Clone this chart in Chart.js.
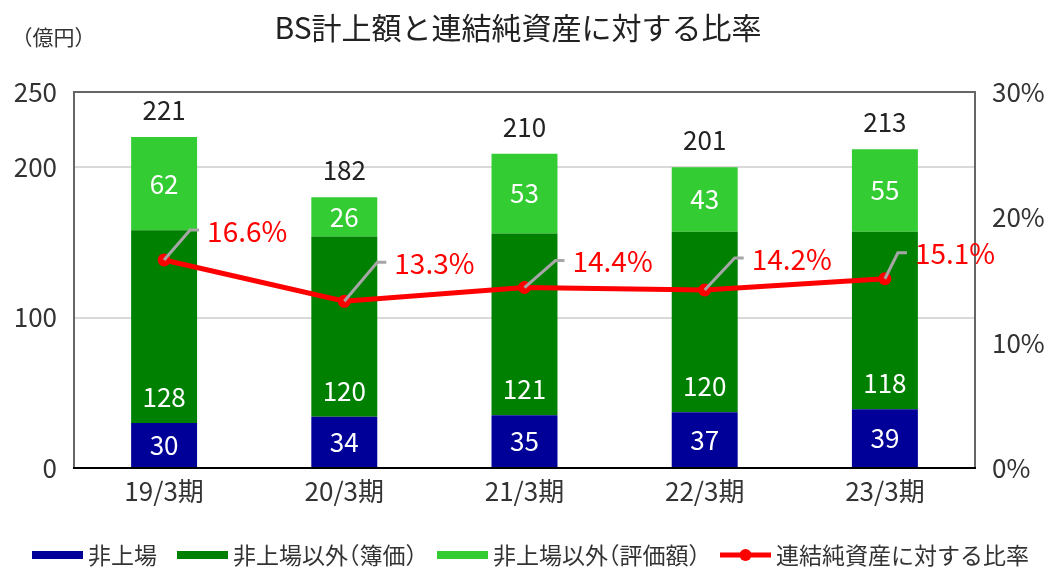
<!DOCTYPE html>
<html><head><meta charset="utf-8">
<script src="https://cdn.jsdelivr.net/npm/chart.js@4"></script>
<style>html,body{margin:0;padding:0;background:#fff}#wrap{width:1047px;height:569px;position:relative}</style>
</head><body><div id="wrap"><canvas id="c" width="1047" height="569"></canvas></div>
<script>
// ---- data ----
const categories = ['19/3期','20/3期','21/3期','22/3期','23/3期'];
const unlisted = [30,34,35,37,39];
const otherBook = [128,120,121,120,118];
const otherValuation = [62,26,53,43,55];
const totals = [221,182,210,201,213];
const ratio = [16.6,13.3,14.4,14.2,15.1];
const leftTicks = [0,100,200,250];
const seriesNames = ['非上場','非上場以外（簿価）','非上場以外（評価額）','連結純資産に対する比率'];
const titleText = 'BS計上額と連結純資産に対する比率';
const unitText = '（億円）';

// ---- layout / style constants ----
const FONT = '"Noto Sans CJK JP", "Noto Sans", sans-serif';
const COLORS = ['#000099','#008000','#33CC33','#FF0000'];
const leaderOffsets = [[26,-30],[33,-39],[31,-27],[30,-32],[13,-26]];
Chart.defaults.font.family = FONT;

// draw text with proportional (half-width) fullwidth parentheses; returns width
function drawPalt(ctx, text, x, y, doDraw){
  let cx = x;
  for (const ch of text){
    const w = ctx.measureText(ch).width;
    if (ch === '（'){ if (doDraw) ctx.fillText(ch, cx - w/2, y); cx += w/2; }
    else if (ch === '）'){ if (doDraw) ctx.fillText(ch, cx, y); cx += w/2; }
    else { if (doDraw) ctx.fillText(ch, cx, y); cx += w; }
  }
  return cx - x;
}

const overlay = {
  id:'overlay',
  afterDatasetsDraw(chart){
    const ctx = chart.ctx, a = chart.chartArea;
    ctx.save();
    // frame
    ctx.lineWidth = 2;
    ctx.strokeStyle = '#666666';
    ctx.beginPath();
    ctx.moveTo(a.left, a.bottom); ctx.lineTo(a.left, a.top); ctx.lineTo(a.right, a.top); ctx.lineTo(a.right, a.bottom);
    ctx.stroke();
    ctx.strokeStyle = '#000000';
    ctx.beginPath(); ctx.moveTo(a.left-1, a.bottom); ctx.lineTo(a.right+1, a.bottom); ctx.stroke();

    // bar value labels
    ctx.textAlign = 'center'; ctx.textBaseline = 'middle';
    ctx.font = '26px ' + FONT;
    const m0 = chart.getDatasetMeta(0), m1 = chart.getDatasetMeta(1), m2 = chart.getDatasetMeta(2);
    ctx.fillStyle = '#FFFFFF';
    m0.data.forEach((el,i)=>{ ctx.fillText(String(unlisted[i]), el.x, (el.y+el.base)/2); });
    m1.data.forEach((el,i)=>{ ctx.fillText(String(otherBook[i]), el.x, el.base-26); });
    m2.data.forEach((el,i)=>{ ctx.fillText(String(otherValuation[i]), el.x, (el.y+el.base)/2); });
    ctx.fillStyle = '#222222';
    m2.data.forEach((el,i)=>{ ctx.fillText(String(totals[i]), el.x, el.y-27); });

    // leaders + ratio labels
    const m3 = chart.getDatasetMeta(3);
    ctx.font = '28px ' + FONT;
    ctx.textAlign = 'left';
    m3.data.forEach((pt,i)=>{
      const [dx,dy] = leaderOffsets[i];
      const ex = pt.x+dx, ey = pt.y+dy;
      ctx.strokeStyle = '#A6A6A6'; ctx.lineWidth = 3;
      ctx.beginPath(); ctx.moveTo(pt.x, pt.y); ctx.lineTo(ex, ey); ctx.lineTo(ex+9, ey); ctx.stroke();
      ctx.fillStyle = '#FF0000';
      ctx.fillText(ratio[i].toFixed(1)+'%', ex+17, ey+1);
    });
    ctx.restore();
  },
  afterDraw(chart){
    const ctx = chart.ctx;
    ctx.save();
    ctx.fillStyle = '#222222';
    ctx.textBaseline = 'middle';
    ctx.textAlign = 'center';
    ctx.font = '30px ' + FONT;
    ctx.fillText(titleText, 518, 28);
    ctx.textAlign = 'left';
    ctx.font = '21px ' + FONT;
    ctx.fillStyle = '#333333';
    drawPalt(ctx, unitText, 22, 37, true);

    // legend
    ctx.font = '23px ' + FONT;
    const boxW = 51, gapBT = 5, gapItem = 20;
    let x = 32;
    const y = 555;
    seriesNames.forEach((n,i)=>{
      if (i < 3) {
        ctx.fillStyle = COLORS[i];
        ctx.fillRect(x, y-4, boxW, 8);
      } else {
        ctx.strokeStyle = COLORS[i]; ctx.lineWidth = 5;
        ctx.beginPath(); ctx.moveTo(x, y); ctx.lineTo(x+boxW, y); ctx.stroke();
        ctx.fillStyle = COLORS[i];
        ctx.beginPath(); ctx.arc(x+boxW/2, y, 6, 0, Math.PI*2); ctx.fill();
      }
      ctx.fillStyle = '#333333';
      const tw = drawPalt(ctx, n, x+boxW+gapBT, y, true);
      x += boxW + gapBT + tw + gapItem;
    });
    ctx.restore();
  }
};

new Chart(document.getElementById('c'), {
  type:'bar',
  data:{
    labels: categories,
    datasets:[
      {label:seriesNames[0], data:unlisted, backgroundColor:COLORS[0], stack:'s', yAxisID:'y', order:2},
      {label:seriesNames[1], data:otherBook, backgroundColor:COLORS[1], stack:'s', yAxisID:'y', order:2},
      {label:seriesNames[2], data:otherValuation, backgroundColor:COLORS[2], stack:'s', yAxisID:'y', order:2},
      {type:'line', label:seriesNames[3], data:ratio, borderColor:COLORS[3], backgroundColor:COLORS[3],
       borderWidth:5, pointRadius:6.5, pointBorderWidth:0, pointBackgroundColor:COLORS[3], yAxisID:'y1', order:1, tension:0}
    ]
  },
  options:{
    responsive:false, animation:false, devicePixelRatio:1,
    layout:{padding:{top:92,left:0,right:0,bottom:0}},
    datasets:{bar:{barPercentage:0.366, categoryPercentage:1}},
    plugins:{legend:{display:false}, title:{display:false}, tooltip:{enabled:false}},
    scales:{
      x:{stacked:true, grid:{display:false, drawTicks:false}, border:{display:false},
         ticks:{font:{size:26}, color:'#333333', padding:8},
         afterFit(s){ s.height = 101; }},
      y:{stacked:true, position:'left', min:0, max:250,
         afterBuildTicks(s){ s.ticks = leftTicks.map(v=>({value:v})); },
         grid:{drawTicks:false, lineWidth:2, color:(c)=> (c.tick && (c.tick.value===100 || c.tick.value===200)) ? '#D9D9D9' : 'rgba(0,0,0,0)'},
         border:{display:false},
         ticks:{padding:17, font:{size:26}, color:'#333333'},
         afterFit(s){ s.width = 74; }},
      y1:{position:'right', min:0, max:30,
         ticks:{stepSize:10, callback:v=>v+'%', padding:17, font:{size:26}, color:'#333333'},
         grid:{display:false, drawTicks:false}, border:{display:false},
         afterFit(s){ s.width = 72; }}
    }
  },
  plugins:[overlay]
});
</script>
</body></html>
